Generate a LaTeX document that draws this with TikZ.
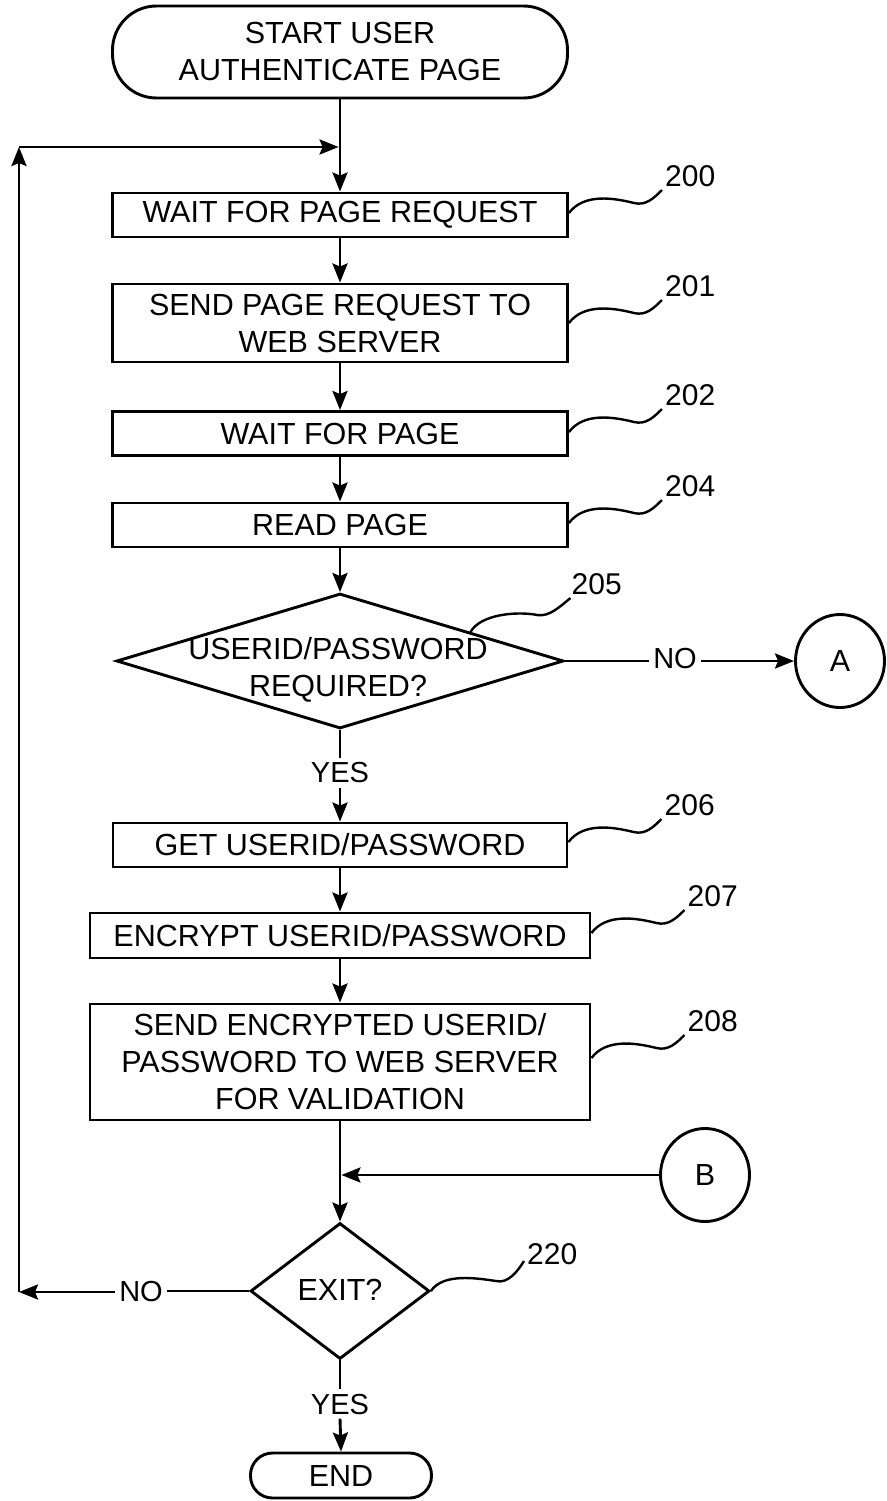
\documentclass[tikz,border=0pt]{standalone}
\usepackage{fontspec}
\setmainfont{Liberation Sans}
\usetikzlibrary{shapes.geometric,arrows.meta,calc}
\newcommand\leadr[3]{\draw[ldr] (#1) .. controls +(15,-20) and +(-20,-5) .. ++(65,-10) .. controls +(12,3) and +(-8,8) .. ++(28,-13) node[refnum] (#2) {#3};}
\begin{document}
\begin{tikzpicture}[x=1pt,y=-1pt,line width=2.9pt,
  every node/.style={inner sep=0pt,font=\fontsize{30.5}{37}\selectfont,align=center},
  proc/.style={draw,rectangle},
  term/.style={draw,rectangle},
  dec/.style={draw,diamond},
  conn/.style={draw,ellipse,minimum width=89pt,minimum height=93pt},
  yn/.style={inner sep=3pt,font=\fontsize{29}{34}\selectfont},
  arr/.style={-{Stealth[length=19pt,width=15pt,inset=3pt]}},
  ldr/.style={line width=2.4pt},
  refnum/.style={anchor=south west,xshift=2pt,yshift=2.5pt,font=\fontsize{30}{34}\selectfont}
]
\fill[white] (0,0) rectangle (886,1501);
\useasboundingbox (0,0) rectangle (886,1501);

% nodes
\node[term,rounded corners=44pt,minimum width=455pt,minimum height=92pt] (start) at (340,52) {START USER\\AUTHENTICATE PAGE};
\node[proc,minimum width=455pt,minimum height=44pt] (b200) at (340,215) {WAIT FOR PAGE REQUEST};
\node[proc,minimum width=455pt,minimum height=78pt] (b201) at (340,323) {SEND PAGE REQUEST TO\\WEB SERVER};
\node[proc,minimum width=455pt,minimum height=44pt] (b202) at (340,433.5) {WAIT FOR PAGE};
\node[proc,minimum width=455pt,minimum height=44pt] (b204) at (340,525) {READ PAGE};
\node[dec,minimum width=447pt,minimum height=135pt] (d205) at (340,661) {};
\node (t205) at (338,670) {USERID/PASSWORD\\REQUIRED?};
\node[yn] (no1) at (675,659) {NO};
\node[conn] (A) at (840,661) {A};
\node[yn] (yes1) at (340,773) {YES};
\node[proc,minimum width=454pt,minimum height=44pt] (b206) at (340,845) {GET USERID/PASSWORD};
\node[proc,minimum width=500pt,minimum height=45pt] (b207) at (340,935.5) {ENCRYPT USERID/PASSWORD};
\node[proc,minimum width=500pt,minimum height=116pt] (b208) at (340,1062) {SEND ENCRYPTED USERID/\\PASSWORD TO WEB SERVER\\FOR VALIDATION};
\node[conn] (B) at (705,1175) {B};
\node[dec,minimum width=179pt,minimum height=136pt] (d220) at (340,1291) {};
\node (t220) at (340,1290) {EXIT?};
\node[yn] (no2) at (141,1292) {NO};
\node[yn] (yes2) at (340,1404) {YES};
\node[term,rounded corners=22pt,minimum width=181pt,minimum height=45pt] (end) at (341,1475.5) {END};

\coordinate (lt) at (19,147);
\coordinate (lb) at (19,1292);
\coordinate (m) at (338.6,147);

% connectors
\draw[arr] (start) -- (b200);
\draw[arr] (b200) -- (b201);
\draw[arr] (b201) -- (b202);
\draw[arr] (b202) -- (b204);
\draw[arr] (b204) -- (d205);
\draw (d205.east) -- (d205.east -| no1.west);
\draw[arr] (no1.east |- A.west) -- (A.west);
\draw (d205.south) -- (yes1.north);
\draw[arr] (yes1.south) -- (b206.north);
\draw[arr] (b206) -- (b207);
\draw[arr] (b207) -- (b208);
\draw[arr] (b208) -- (d220);
\draw[arr] (B.west) -- ([xshift=1.4pt]B.west -| b208.south);
\draw (d220.west) -- (d220.west -| no2.east);
\draw[arr] (no2.west |- lb) -- (lb);
\draw[arr] (lb) -- (lt);
\draw[arr] (lt) -- (m);
\draw (d220.south) -- (yes2.north);
\draw[arr] (yes2.south) -- (end.north);

% reference leaders
\leadr{[yshift=2pt]b200.east}{n200}{200}
\leadr{b201.east}{n201}{201}
\leadr{[yshift=1.5pt]b202.east}{n202}{202}
\leadr{[yshift=2pt]b204.east}{n204}{204}
\leadr{[yshift=3pt]b206.east}{n206}{206}
\leadr{[yshift=2.5pt]b207.east}{n207}{207}
\leadr{[yshift=4pt]b208.east}{n208}{208}
\coordinate (s205) at ($(d205.north)!0.58!(d205.east)$);
\draw[ldr] (s205) .. controls +(10,-18) and +(-20,-4) .. ++(67,-17) .. controls +(12,2) and +(-10,8) .. ++(33,-17) node[refnum,xshift=-2pt] (n205) {205};
\draw[ldr] (d220.east) .. controls +(12,-18) and +(-20,-3) .. ++(65,-10) .. controls +(12,3) and +(-6,10) .. ++(28,-20) node[refnum,yshift=-7.5pt] (n220) {220};
\end{tikzpicture}
\end{document}
